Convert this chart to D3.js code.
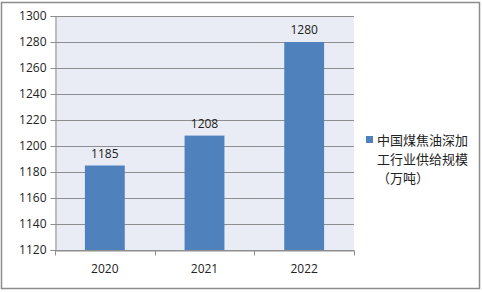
<!DOCTYPE html>
<html>
<head>
<meta charset="utf-8">
<script src="https://d3js.org/d3.v7.min.js"></script>
<style>
  body { margin: 0; background: #fff; }
  .tick text { font-family: "Open Sans", "Liberation Sans", sans-serif; font-size: 12px; fill: #222; }
</style>
</head>
<body>
<div id="vis"></div>
<script>
// chart data
var years = ["2020", "2021", "2022"];
var values = [1185, 1208, 1280];
var yTicks = [1120, 1140, 1160, 1180, 1200, 1220, 1240, 1260, 1280, 1300];
var legendLines = ["中国煤焦油深加", "工行业供给规模", "（万吨）"];

var W = 482, H = 292;
var margin = { top: 16, left: 55 },
    width = 299,
    height = 234;

var svg = d3.select("#vis").append("svg")
    .attr("width", W)
    .attr("height", H);

// outer frame
svg.append("rect")
    .attr("x", 1.5).attr("y", 2.5)
    .attr("width", 478).attr("height", 286)
    .attr("fill", "#fff")
    .attr("stroke", "#8c8c8c")
    .attr("stroke-width", 1.5);

var g = svg.append("g")
    .attr("transform", "translate(" + margin.left + "," + margin.top + ")");

var x = d3.scaleBand().domain(years).range([0, width]).paddingInner(0.6).paddingOuter(0.3);
var xEdge = d3.scaleBand().domain(years).range([0, width]);
var y = d3.scaleLinear().domain([1120, 1300]).range([height, 0]);

// plot background
g.append("rect")
    .attr("width", width).attr("height", height)
    .attr("fill", "#e9ecf4");

// grid lines
g.selectAll(".grid")
    .data(yTicks)
    .enter().append("line")
    .attr("x1", 0).attr("x2", width)
    .attr("y1", function (d) { return Math.round(y(d)) + 0.5; })
    .attr("y2", function (d) { return Math.round(y(d)) + 0.5; })
    .attr("stroke", "#8e8e8e")
    .attr("stroke-width", 1);

// bars
g.selectAll(".bar")
    .data(values)
    .enter().append("rect")
    .attr("x", function (d, i) { return x(years[i]); })
    .attr("y", function (d) { return y(d); })
    .attr("width", x.bandwidth())
    .attr("height", function (d) { return height - y(d); })
    .attr("fill", "#4f81bd");

// value labels
g.selectAll(".lbl")
    .data(values)
    .enter().append("text")
    .attr("x", function (d, i) { return x(years[i]) + x.bandwidth() / 2; })
    .attr("y", function (d) { return y(d) - 8; })
    .attr("text-anchor", "middle")
    .style("font-family", "'Open Sans', 'Liberation Sans', sans-serif")
    .style("font-size", "12px")
    .style("fill", "#222")
    .text(function (d) { return d; });

// y axis
var yAxis = g.append("g")
    .attr("transform", "translate(0.5,0)")
    .call(d3.axisLeft(y).tickValues(yTicks).tickSize(5).tickPadding(4).tickFormat(d3.format("d")));
yAxis.select(".domain").attr("stroke", "#8e8e8e");
yAxis.selectAll(".tick line").attr("stroke", "#8e8e8e");

// x axis
var xAxis = g.append("g")
    .attr("transform", "translate(0," + (height + 0.5) + ")")
    .call(d3.axisBottom(xEdge).tickSize(0).tickPadding(14));
xAxis.select(".domain").attr("stroke", "#8e8e8e");
xAxis.selectAll(".edge")
    .data([0, 1, 2, 3])
    .enter().append("line")
    .attr("class", "edge")
    .attr("x1", function (d) { return Math.round(d * xEdge.step()) + 0.5; })
    .attr("x2", function (d) { return Math.round(d * xEdge.step()) + 0.5; })
    .attr("y1", 0).attr("y2", 5)
    .attr("stroke", "#8e8e8e");

// legend
var legend = svg.append("g").attr("transform", "translate(366,136)");
legend.append("rect")
    .attr("x", 0).attr("y", 0)
    .attr("width", 7).attr("height", 7)
    .attr("fill", "#4f81bd");
legend.selectAll("text")
    .data(legendLines)
    .enter().append("text")
    .attr("x", 11)
    .attr("y", function (d, i) { return 9 + i * 19; })
    .style("font-family", "'Noto Sans CJK SC', sans-serif")
    .style("font-size", "13px")
    .style("fill", "#222")
    .text(function (d) { return d; });
</script>
</body>
</html>
